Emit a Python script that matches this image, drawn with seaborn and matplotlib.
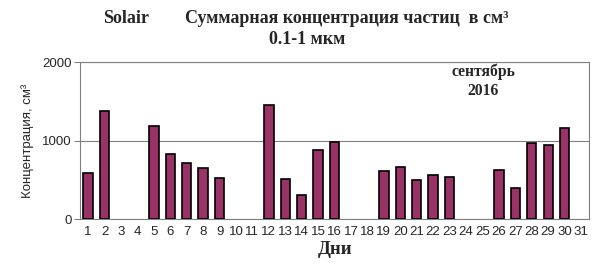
import numpy as np
import pandas as pd
import matplotlib
matplotlib.use("Agg")
import matplotlib.pyplot as plt
import seaborn as sns

days = list(range(1, 32))
values = [590, 1375, np.nan, np.nan, 1185, 830, 709, 650, 527, np.nan, np.nan,
          1456, 514, 304, 886, 982, np.nan, np.nan, 611, 666, 497, 561, 539,
          np.nan, np.nan, 628, 392, 970, 940, 1165, np.nan]
yticks = [0, 1000, 2000]

sns.set_theme(style="white")
plt.rcParams['font.family'] = ['Liberation Sans', 'DejaVu Sans']

df = pd.DataFrame({"day": [str(d) for d in days], "value": values})

fig = plt.figure(figsize=(6.1, 2.77), dpi=100)
ax = fig.add_axes([0.131, 0.209, 0.835, 0.567])

sns.barplot(data=df, x="day", y="value", order=[str(d) for d in days],
            color="#993366", saturation=1, width=0.57,
            edgecolor="black", linewidth=1.2, ax=ax, zorder=3)

ax.set_xlim(-0.5, 30.5)
ax.set_ylim(0, 2000)
ax.set_yticks(yticks)
ax.set_yticklabels([str(t) for t in yticks], fontsize=9.5)
ax.set_xticks(range(31))
ax.set_xticklabels([str(d) for d in days], fontsize=9.5)
ax.set_xticks(np.arange(-0.5, 31, 1), minor=True)
ax.tick_params(axis="x", which="major", length=0, pad=5)
ax.tick_params(axis="x", which="minor", length=4, color="#808080", width=0.8, direction="out")
ax.tick_params(axis="y", which="major", length=4, color="#808080", width=0.8, direction="out", pad=2, left=True)
ax.yaxis.grid(True, color="#808080", linewidth=0.8, zorder=0)
ax.set_axisbelow(True)
for s in ax.spines.values():
    s.set_color("#808080")
    s.set_linewidth(0.8)
    s.set_visible(True)

ax.set_ylabel("Концентрация, см³", fontsize=9.5, labelpad=6)
ax.set_xlabel("Дни", fontsize=13.5, fontweight="bold", family=["Liberation Serif", "DejaVu Serif"], labelpad=2)

serif = ["Liberation Serif", "DejaVu Serif"]
fig.text(0.169, 0.935, "Solair", fontsize=13, fontweight="bold", family=serif, ha="left", va="center")
fig.text(0.303, 0.935, "Суммарная концентрация частиц  в см³", fontsize=13, fontweight="bold",
         family=serif, ha="left", va="center")
fig.text(0.504, 0.856, "0.1-1 мкм", fontsize=13, fontweight="bold", family=serif, ha="center", va="center")

ax.text(0.792, 0.88, "сентябрь\n2016", transform=ax.transAxes, fontsize=11.3, fontweight="bold",
        family=serif, ha="center", va="center", linespacing=1.25)

fig.savefig("out.png", dpi=100)
